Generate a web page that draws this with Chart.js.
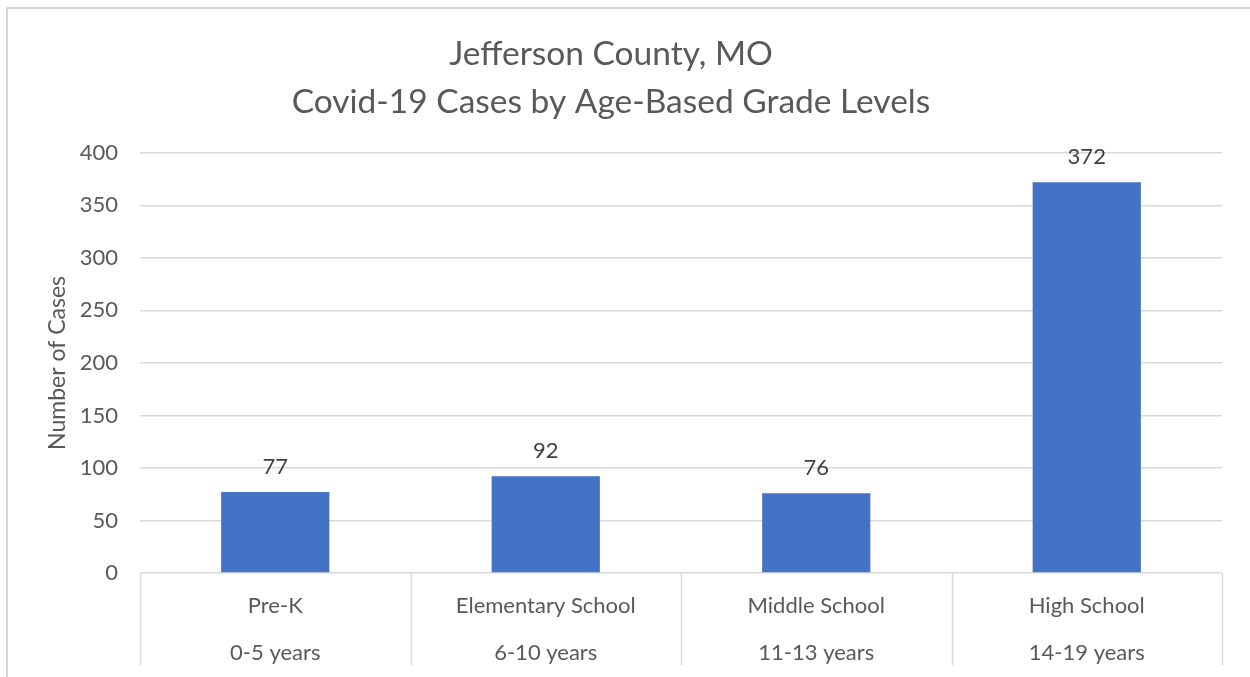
<!DOCTYPE html>
<html>
<head>
<meta charset="utf-8">
<script src="https://cdn.jsdelivr.net/npm/chart.js@4"></script>
<style>
  html, body { margin: 0; padding: 0; background: #fff; overflow: hidden; }
  #frame { position: absolute; left: 6px; top: 7px; width: 1300px; height: 720px; border: 2px solid #d9d9d9; }
  #wrap { position: absolute; left: 0; top: 0; width: 1250px; height: 677px; }
</style>
</head>
<body>
<div id="frame"></div>
<div id="wrap"><canvas id="myChart"></canvas></div>
<script>
var gradeLevels = ['Pre-K', 'Elementary School', 'Middle School', 'High School'];
var ageRanges = ['0-5 years', '6-10 years', '11-13 years', '14-19 years'];
var cases = [77, 92, 76, 372];
var titleLines = ['Jefferson County, MO', 'Covid-19 Cases by Age-Based Grade Levels'];

var fontName = 'Lato';
var textGrey = '#595959';
var lineGrey = '#d9d9d9';

// value above each bar
var barValues = {
  id: 'barValues',
  afterDatasetsDraw: function(chart) {
    var ctx = chart.ctx;
    var meta = chart.getDatasetMeta(0);
    ctx.save();
    ctx.font = '22px ' + fontName;
    ctx.fillStyle = '#404040';
    ctx.textAlign = 'center';
    ctx.textBaseline = 'middle';
    meta.data.forEach(function(bar, i) {
      ctx.fillText(chart.data.datasets[0].data[i], bar.x, bar.y - 25);
    });
    ctx.restore();
  }
};

// vertical separators under the axis, between categories
var categoryLines = {
  id: 'categoryLines',
  afterDraw: function(chart) {
    var ctx = chart.ctx;
    var x = chart.scales.x;
    var area = chart.chartArea;
    var step = x.getPixelForValue(1) - x.getPixelForValue(0);
    ctx.save();
    ctx.strokeStyle = lineGrey;
    ctx.lineWidth = 1.5;
    for (var i = 0; i <= chart.data.labels.length; i++) {
      var px = Math.round(x.getPixelForValue(0) - step / 2 + i * step) + 0.5;
      ctx.beginPath();
      ctx.moveTo(px, area.bottom);
      ctx.lineTo(px, area.bottom + 92);
      ctx.stroke();
    }
    ctx.restore();
  }
};

var labels = gradeLevels.map(function(g, i) { return [g, ageRanges[i]]; });

new Chart('myChart', {
  type: 'bar',
  data: {
    labels: labels,
    datasets: [{
      label: 'Number of Cases',
      data: cases,
      backgroundColor: '#4472C4',
      categoryPercentage: 1.0,
      barPercentage: 0.4
    }]
  },
  options: {
    responsive: true,
    maintainAspectRatio: false,
    animation: false,
    layout: {
      padding: { left: 0, right: 28, top: 0, bottom: 12 }
    },
    plugins: {
      legend: { display: false },
      tooltip: { enabled: false },
      title: {
        display: true,
        text: titleLines,
        color: textGrey,
        font: { family: fontName, size: 33.5, weight: 'normal', lineHeight: 1.43 },
        padding: { top: 30, bottom: 27 }
      }
    },
    scales: {
      x: {
        grid: { display: false },
        border: { display: false },
        ticks: {
          color: textGrey,
          padding: 1,
          maxRotation: 0,
          autoSkip: false,
          font: { family: fontName, size: 22, lineHeight: 2.14 }
        },
        afterFit: function(scale) { scale.height = 92; }
      },
      y: {
        min: 0,
        max: 400,
        ticks: {
          stepSize: 50,
          color: textGrey,
          padding: 22,
          font: { family: fontName, size: 22 }
        },
        grid: { color: lineGrey, lineWidth: 1.5, drawTicks: false },
        border: { display: false },
        title: {
          display: true,
          text: 'Number of Cases',
          color: textGrey,
          font: { family: fontName, size: 23 },
          padding: { top: 44, bottom: 0 }
        },
        afterFit: function(scale) { scale.width = 140; }
      }
    }
  },
  plugins: [barValues, categoryLines]
});
</script>
</body>
</html>
